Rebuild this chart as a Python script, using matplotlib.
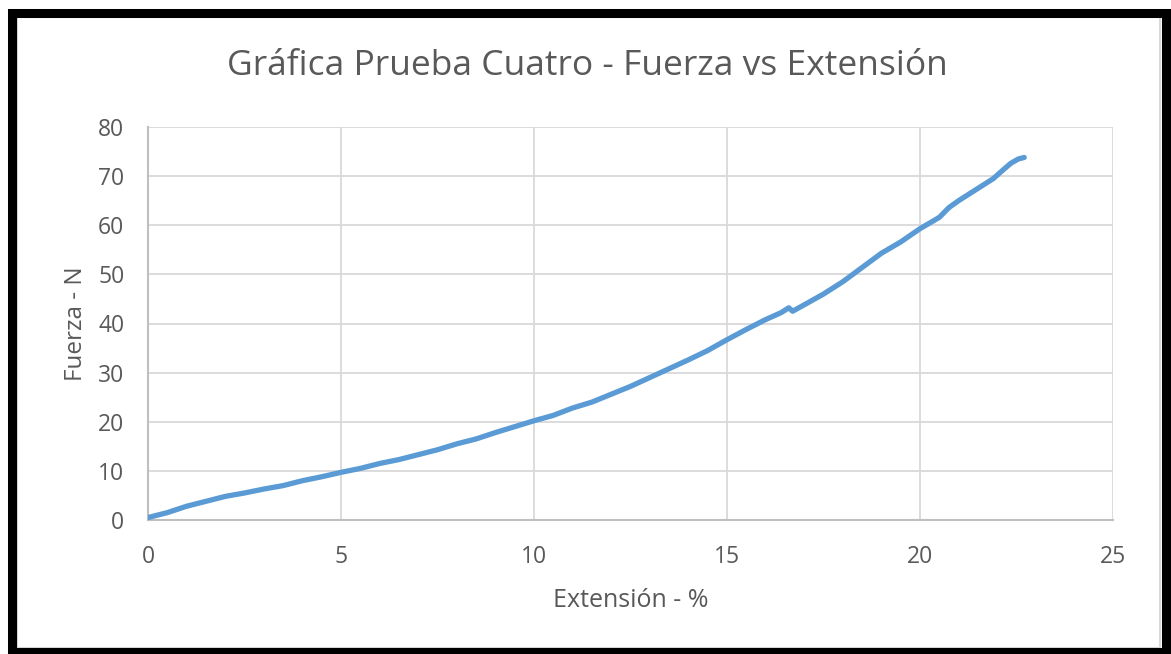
import matplotlib
matplotlib.use("Agg")
import matplotlib.pyplot as plt
from matplotlib.patches import Rectangle

extension = [0.0, 0.5, 1.0, 1.5, 2.0, 2.5, 3.0, 3.5, 4.0, 4.5, 5.0, 5.5, 6.0, 6.5,
             7.0, 7.5, 8.0, 8.5, 9.0, 9.5, 10.0, 10.5, 11.0, 11.5, 12.0, 12.5,
             13.0, 13.5, 14.0, 14.5, 15.0, 15.5, 16.0, 16.4, 16.6, 16.7, 17.0,
             17.5, 18.0, 18.5, 19.0, 19.5, 20.0, 20.5, 20.75, 21.0, 21.4, 21.9,
             22.1, 22.35, 22.55, 22.7]
fuerza = [0.5, 1.5, 2.8, 3.8, 4.8, 5.5, 6.3, 7.0, 8.0, 8.8, 9.7, 10.5, 11.5, 12.3,
          13.3, 14.3, 15.5, 16.5, 17.8, 19.0, 20.2, 21.3, 22.8, 24.0, 25.6, 27.2,
          29.0, 30.8, 32.6, 34.5, 36.7, 38.8, 40.8, 42.2, 43.2, 42.5, 43.8,
          46.0, 48.5, 51.4, 54.3, 56.6, 59.3, 61.6, 63.6, 65.0, 67.0, 69.5,
          70.9, 72.6, 73.5, 73.8]

title = "Gráfica Prueba Cuatro - Fuerza vs Extensión"
xlabel = "Extensión - %"
ylabel = "Fuerza - N"
xticks = [0, 5, 10, 15, 20, 25]
yticks = [0, 10, 20, 30, 40, 50, 60, 70, 80]

plt.rcParams['font.family'] = ['Open Sans', 'DejaVu Sans']
W, H = 1171, 654
fig = plt.figure(figsize=(W / 100, H / 100), dpi=100)
ax = fig.add_axes([148 / W, 1 - 520 / H, (1113 - 148) / W, (520 - 127) / H])

ax.plot(extension, fuerza, color="#5B9BD5", lw=3.8, solid_capstyle="round",
        solid_joinstyle="round", zorder=3)
ax.set_xlim(0, 25)
ax.set_ylim(0, 80)
ax.set_xticks(xticks)
ax.set_yticks(yticks)
ax.grid(True, color="#D9D9D9", lw=1.3)
ax.set_axisbelow(True)
for s in ["top", "right"]:
    ax.spines[s].set_visible(False)
for s in ["left", "bottom"]:
    ax.spines[s].set_color("#BFBFBF")
    ax.spines[s].set_linewidth(1.5)
ax.tick_params(length=0, labelsize=16.5, labelcolor="#595959", pad=17)
ax.tick_params(axis="x", pad=18)
ax.set_xlabel(xlabel, fontsize=18, color="#595959", labelpad=14)
ax.set_ylabel(ylabel, fontsize=17.5, color="#595959", labelpad=7)

fig.text(587 / W, 1 - 66 / H, title, fontsize=25.5, color="#595959",
         ha="center", va="center")

# inner light border and outer black frame
fig.add_artist(Rectangle((17 / W, 1 - 648 / H), (1160 - 17) / W, (648 - 17) / H,
                         transform=fig.transFigure, fill=False, ec="#D9D9D9", lw=1.5))
fig.add_artist(Rectangle((11.5 / W, 1 - 652 / H), (1165.5 - 11.5) / W, (652 - 13) / H,
                         transform=fig.transFigure, fill=False, ec="black", lw=6.5))

fig.savefig("out.png", dpi=100)
